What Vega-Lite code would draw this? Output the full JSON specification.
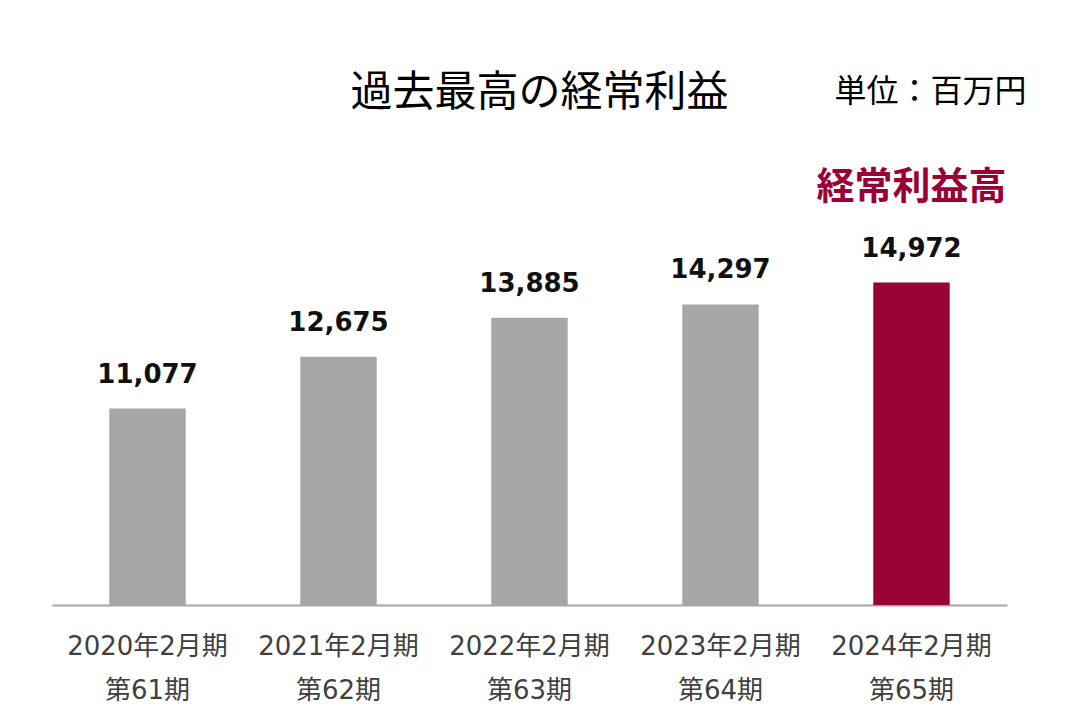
{
  "$schema": "https://vega.github.io/schema/vega-lite/v6.json",
  "width": 955,
  "height": 485,
  "autosize": "none",
  "padding": {"left": 52, "top": 120, "right": 73, "bottom": 115},
  "background": "white",
  "config": {"view": {"stroke": null}, "font": "Noto Sans CJK JP"},
  "title": {
    "text": "過去最高の経常利益",
    "font": "Noto Sans CJK JP",
    "fontSize": 42,
    "fontWeight": "normal",
    "color": "#000000",
    "anchor": "middle",
    "dx": 10,
    "offset": -39
  },
  "data": {
    "values": [
      {"period": "2020年2月期 第61期", "value": 11077, "label": "11,077", "type": "normal"},
      {"period": "2021年2月期 第62期", "value": 12675, "label": "12,675", "type": "normal"},
      {"period": "2022年2月期 第63期", "value": 13885, "label": "13,885", "type": "normal"},
      {"period": "2023年2月期 第64期", "value": 14297, "label": "14,297", "type": "normal"},
      {"period": "2024年2月期 第65期", "value": 14972, "label": "14,972", "type": "highlight", "note": "経常利益高"}
    ]
  },
  "encoding": {
    "x": {
      "field": "period",
      "type": "nominal",
      "sort": null,
      "scale": {"paddingInner": 0.6, "paddingOuter": 0.3},
      "axis": {
        "title": null,
        "labelAngle": 0,
        "labelExpr": "split(datum.value, ' ')",
        "labelFont": "DejaVu Sans, Noto Sans CJK JP",
        "labelFontSize": 26,
        "labelColor": "#404040",
        "labelLineHeight": 44,
        "labelPadding": 28,
        "ticks": false,
        "domainColor": "#a6a6a6",
        "domainWidth": 2,
        "grid": false
      }
    },
    "y": {
      "field": "value",
      "type": "quantitative",
      "scale": {"domain": [5000, 20000], "zero": false, "nice": false},
      "axis": null
    }
  },
  "layer": [
    {
      "mark": {"type": "bar"},
      "encoding": {
        "y2": {"datum": 5000},
        "color": {
          "field": "type",
          "type": "nominal",
          "scale": {"domain": ["normal", "highlight"], "range": ["#a6a6a6", "#990033"]},
          "legend": null
        }
      }
    },
    {
      "mark": {"type": "text", "font": "DejaVu Sans", "fontWeight": "bold", "fontSize": 26, "baseline": "alphabetic", "dy": -26, "color": "#111111"},
      "encoding": {"text": {"field": "label"}}
    },
    {
      "transform": [{"filter": "datum.type == 'highlight'"}],
      "mark": {"type": "text", "font": "Noto Sans CJK JP", "fontWeight": "bold", "fontSize": 38, "baseline": "alphabetic", "dy": -84, "color": "#990033"},
      "encoding": {"text": {"field": "note"}}
    },
    {
      "transform": [{"filter": "datum.type == 'highlight'"}],
      "mark": {"type": "text", "font": "Noto Sans CJK JP", "fontSize": 32, "align": "right", "baseline": "alphabetic", "dx": 115, "color": "#000000"},
      "encoding": {
        "text": {"value": "単位：百万円"},
        "y": {"datum": 20000, "type": "quantitative"},
        "yOffset": {"value": -18}
      }
    }
  ]
}
